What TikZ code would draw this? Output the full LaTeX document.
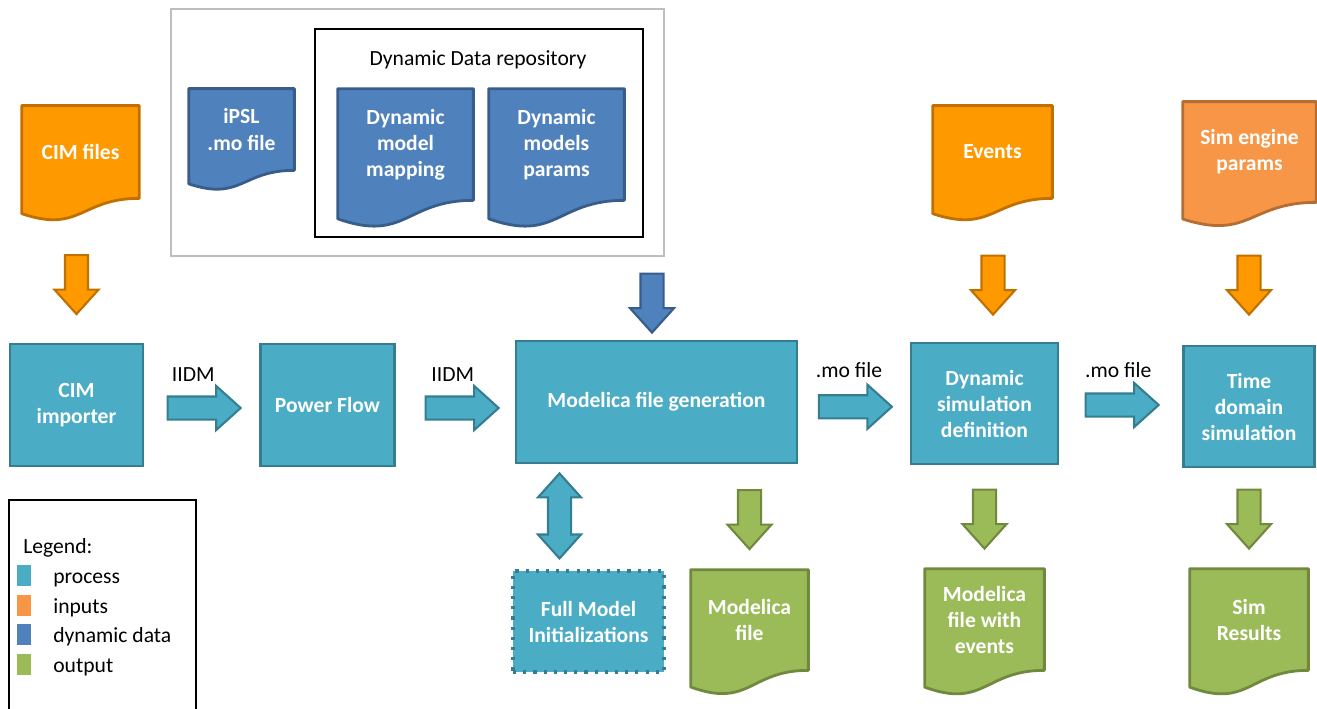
\documentclass[tikz,border=0pt]{standalone}
\usepackage{fontspec}
\setmainfont{Carlito}
\usepackage{tikz}
\usetikzlibrary{arrows.meta,positioning,shapes.arrows,calc,backgrounds}
\definecolor{procblue}{HTML}{4BACC6}
\definecolor{procline}{HTML}{357D91}
\definecolor{inorange}{HTML}{FF9900}
\definecolor{inline}{HTML}{C07000}
\definecolor{paramorange}{HTML}{F79646}
\definecolor{paramline}{HTML}{B66D31}
\definecolor{dynblue}{HTML}{4F81BD}
\definecolor{dynline}{HTML}{385D8A}
\definecolor{outgreen}{HTML}{9BBB59}
\definecolor{outline}{HTML}{71893F}
\definecolor{boxgray}{RGB}{190,190,190}
\newcommand{\boxfont}{\fontsize{12.3}{14.8}\selectfont\bfseries}
\newcommand{\txtfont}{\fontsize{12.3}{14.8}\selectfont}
\tikzset{
  proc/.style={draw=procline, fill=procblue, line width=1.5pt, text=white, font=\boxfont, align=center, inner sep=0pt},
  doc/.style={text=white, font=\boxfont, align=center, inner sep=0pt},
  txt/.style={font=\txtfont, inner sep=0pt},
  inbox/.style={fill=inorange, draw=inline},
  parambox/.style={fill=paramorange, draw=paramline},
  dynbox/.style={fill=dynblue, draw=dynline},
  outbox/.style={fill=outgreen, draw=outline},
  fatarrow/.style={single arrow, single arrow head extend=0.21cm, single arrow tip angle=84,
    minimum width=0.84cm, minimum height=1.46cm, inner xsep=0pt, inner ysep=0.21cm, line width=1.2pt},
  downarrow/.style={fatarrow, minimum height=1.18cm, rotate=-90},
  procarrow/.style={fill=procblue, draw=procline},
  inarrow/.style={fill=inorange, draw=inline},
  dynarrow/.style={fill=dynblue, draw=dynline},
  outarrow/.style={fill=outgreen, draw=outline}
}
% document shape with wavy bottom
\newcommand{\docshape}[2]{%
  \draw[#2, line width=1.6pt, line join=round] (#1.north west) -- (#1.north east) -- (#1.south east)
    .. controls (#1.south) and ($(#1.south)!-0.38!(#1.north)$) .. ($(#1.south west)!-0.165!(#1.north west)$) -- cycle;}

\begin{document}
\begin{tikzpicture}[x=0.02cm, y=-0.02cm]
\useasboundingbox (0,0) rectangle (1317,709);
% repository frames
\draw[boxgray, line width=1pt] (171,9) rectangle (664,256);
\draw[black, line width=0.8pt] (315,29) rectangle (643,237);
\node[txt] (repo) at (478,60) {Dynamic Data repository};

% inputs and dynamic data
\node[doc, minimum width=2.34cm, minimum height=1.84cm] (cimfiles) at (80.5,152) {CIM files};
\node[doc, minimum width=2.10cm, minimum height=1.62cm] (ipsl) at (241.5,129.5) {iPSL\\.mo file};
\node[doc, minimum width=2.70cm, minimum height=2.22cm] (dmmap) at (405.5,144.5) {Dynamic\\model\\mapping};
\node[doc, minimum width=2.70cm, minimum height=2.22cm] (dmparams) at (556.5,144.5) {Dynamic\\models\\params};
\node[doc, minimum width=2.38cm, minimum height=1.84cm] (events) at (992.5,152) {Events};
\node[doc, minimum width=2.66cm, minimum height=2.00cm] (simparams) at (1249.5,152) {Sim engine\\params};

% processes
\node[proc, minimum width=2.66cm, minimum height=2.44cm] (cimimp) at (76.5,405) {CIM\\importer};
\node[proc, minimum width=2.68cm, minimum height=2.44cm] (pf) at (327.5,405) {Power Flow};
\node[proc, minimum width=5.62cm, minimum height=2.44cm] (modgen) at (656.5,402) {Modelica file generation};
\node[proc, minimum width=2.94cm, minimum height=2.42cm] (dynsim) at (984.5,403.5) {Dynamic\\simulation\\definition};
\node[proc, minimum width=2.62cm, minimum height=2.42cm] (timedom) at (1249,406.5) {Time\\domain\\simulation};
\node[proc, minimum width=3.02cm, minimum height=2.02cm, line width=1.8pt, dash pattern=on 1.8pt off 4pt] (fullinit) at (588.5,621.5) {Full Model\\Initializations};

% outputs
\node[doc, minimum width=2.34cm, minimum height=2.00cm] (modfile) at (749.5,620) {Modelica\\file};
\node[doc, minimum width=2.38cm, minimum height=2.02cm] (modevents) at (984.5,619.5) {Modelica\\file with\\events};
\node[doc, minimum width=2.36cm, minimum height=2.02cm] (simres) at (1249,619.5) {Sim\\Results};

\begin{scope}[on background layer]
\docshape{cimfiles}{inbox}
\docshape{ipsl}{dynbox}
\docshape{dmmap}{dynbox}
\docshape{dmparams}{dynbox}
\docshape{events}{inbox}
\docshape{simparams}{parambox}
\docshape{modfile}{outbox}
\docshape{modevents}{outbox}
\docshape{simres}{outbox}
\end{scope}

% block arrows
\node[downarrow, inarrow] (a1) at ($(cimimp.north)+(0,-64.5)$) {};
\node[fatarrow, procarrow] (a2) at ($(cimimp.east)!0.5!(pf.west)+(-4,3)$) {};
\node[fatarrow, procarrow] (a3) at ($(pf.east)!0.5!(modgen.west)+(0.5,4.5)$) {};
\node[downarrow, dynarrow] (a4) at ($(modgen.north)+(-4.5,-43)$) {};
\node[fatarrow, procarrow] (a5) at ($(modgen.east)!0.5!(dynsim.west)+(-5,4)$) {};
\node[downarrow, inarrow] (a6) at ($(dynsim.north)+(8.5,-63)$) {};
\node[fatarrow, procarrow] (a7) at ($(dynsim.east)!0.5!(timedom.west)+(-5,0)$) {};
\node[downarrow, inarrow] (a8) at ($(timedom.north)+(0,-66)$) {};
\node[double arrow, double arrow head extend=0.2cm, double arrow tip angle=84, minimum width=0.82cm,
      minimum height=1.70cm, inner xsep=0pt, inner ysep=0.21cm, line width=1.2pt, rotate=90, procarrow] (a9) at ($(fullinit.north)+(-29,-53.5)$) {};
\node[downarrow, outarrow] (a10) at ($(modfile.north)+(0,-56.5)$) {};
\node[downarrow, outarrow] (a11) at ($(modevents.north)+(0,-56)$) {};
\node[downarrow, outarrow] (a12) at ($(simres.north)+(0,-56)$) {};

% arrow labels
\node[txt] (l2) at ($(a2)+(-4.5,-33)$) {IIDM};
\node[txt] (l3) at ($(a3)+(-3,-33)$) {IIDM};
\node[txt] (l5) at ($(a5)+(0,-36.5)$) {.mo file};
\node[txt] (l7) at ($(a7)+(2.5,-35)$) {.mo file};

% legend
\draw[black, line width=0.8pt] (9,709) -- (9,500) -- (196,500) -- (196,709);
\node[txt, anchor=base west] (leg) at (23,553) {Legend:};
\foreach \c/\t/\y/\n in {procblue/process/583/lp, paramorange/inputs/613/li, dynblue/dynamic data/642/ld, outgreen/output/672/lo}{
  \node[fill=\c, minimum width=0.28cm, minimum height=0.42cm, inner sep=0pt] (s\n) at (24,\y-7.5) {};
  \node[txt, anchor=base west] (\n) at (53,\y) {\t};
}
\end{tikzpicture}
\end{document}
